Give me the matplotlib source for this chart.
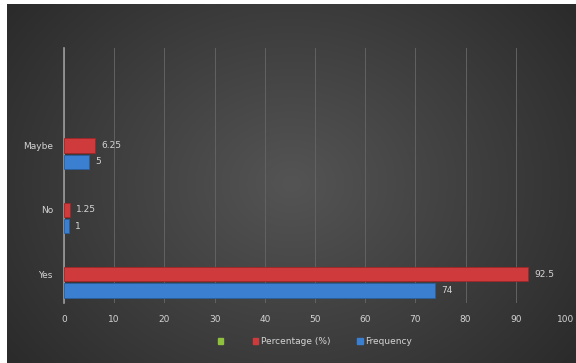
import numpy as np
import matplotlib.pyplot as plt
from matplotlib.patches import Patch

categories = ["Yes", "No", "Maybe"]
percentage = [92.5, 1.25, 6.25]
frequency = [74, 1, 5]
xticks = [0, 10, 20, 30, 40, 50, 60, 70, 80, 90, 100]

fig = plt.figure(figsize=(5.76, 3.63), dpi=100)
fig.patch.set_facecolor("white")

# dark backdrop with a soft glow in the middle
bg = fig.add_axes([7 / 576, 0, 1 - 7 / 576, 1 - 4 / 363])
gx, gy = np.meshgrid(np.linspace(-1, 1, 300), np.linspace(-1, 1, 200))
r = np.sqrt((gx * 1.05) ** 2 + (gy * 0.8) ** 2)
shade = 0.33 - 0.16 * np.clip(r, 0, 1.3) / 1.3
bg.imshow(np.dstack([shade] * 3), aspect="auto", extent=[0, 1, 0, 1], interpolation="bilinear")
bg.axis("off")

ax = fig.add_axes([64 / 576, 60 / 363, (566 - 64) / 576, (303 - 48) / 363])
ax.set_facecolor("none")

y = np.arange(len(categories))
h = 0.22
red_bars = ax.barh(y + 0.125, percentage, height=h, color="#cf3a3c", edgecolor="#a02628", linewidth=0.6, zorder=3)
blue_bars = ax.barh(y - 0.125, frequency, height=h, color="#3b7fd0", edgecolor="#2a5e9e", linewidth=0.6, zorder=3)

lab = "#d4d4d4"
for b, v in zip(red_bars, percentage):
    ax.text(b.get_width() + 1.2, b.get_y() + h / 2, f"{v:g}", va="center", ha="left", color=lab, fontsize=6.5)
for b, v in zip(blue_bars, frequency):
    ax.text(b.get_width() + 1.2, b.get_y() + h / 2, f"{v:g}", va="center", ha="left", color=lab, fontsize=6.5)

ax.set_xlim(0, 100)
ax.set_ylim(-0.32, 3.64)
ax.set_xticks(xticks)
# category names sit level with the upper bar of each group
ax.set_yticks(y + 0.125)
ax.set_yticklabels(categories)
ax.tick_params(colors=lab, labelsize=6.5, length=0)
ax.tick_params(axis="x", pad=9)
ax.tick_params(axis="y", pad=8)
ax.grid(axis="x", color="#626262", linewidth=0.7, zorder=0)
for s in ["top", "right", "bottom"]:
    ax.spines[s].set_visible(False)
ax.spines["left"].set_color("#9a9a9a")
ax.spines["left"].set_linewidth(1.2)

handles = [Patch(color="#8fc13e"), Patch(color="#cf3a3c"), Patch(color="#3b7fd0")]
names = ["", "Percentage (%)", "Frequency"]
fig.legend(handles, names, loc="center", bbox_to_anchor=(315 / 576, 1 - 342 / 363), ncol=3,
           frameon=False, fontsize=6.5, labelcolor=lab, handlelength=0.6, handleheight=0.6,
           handletextpad=0.3, columnspacing=3.0)

fig.savefig("out.png", dpi=100)
